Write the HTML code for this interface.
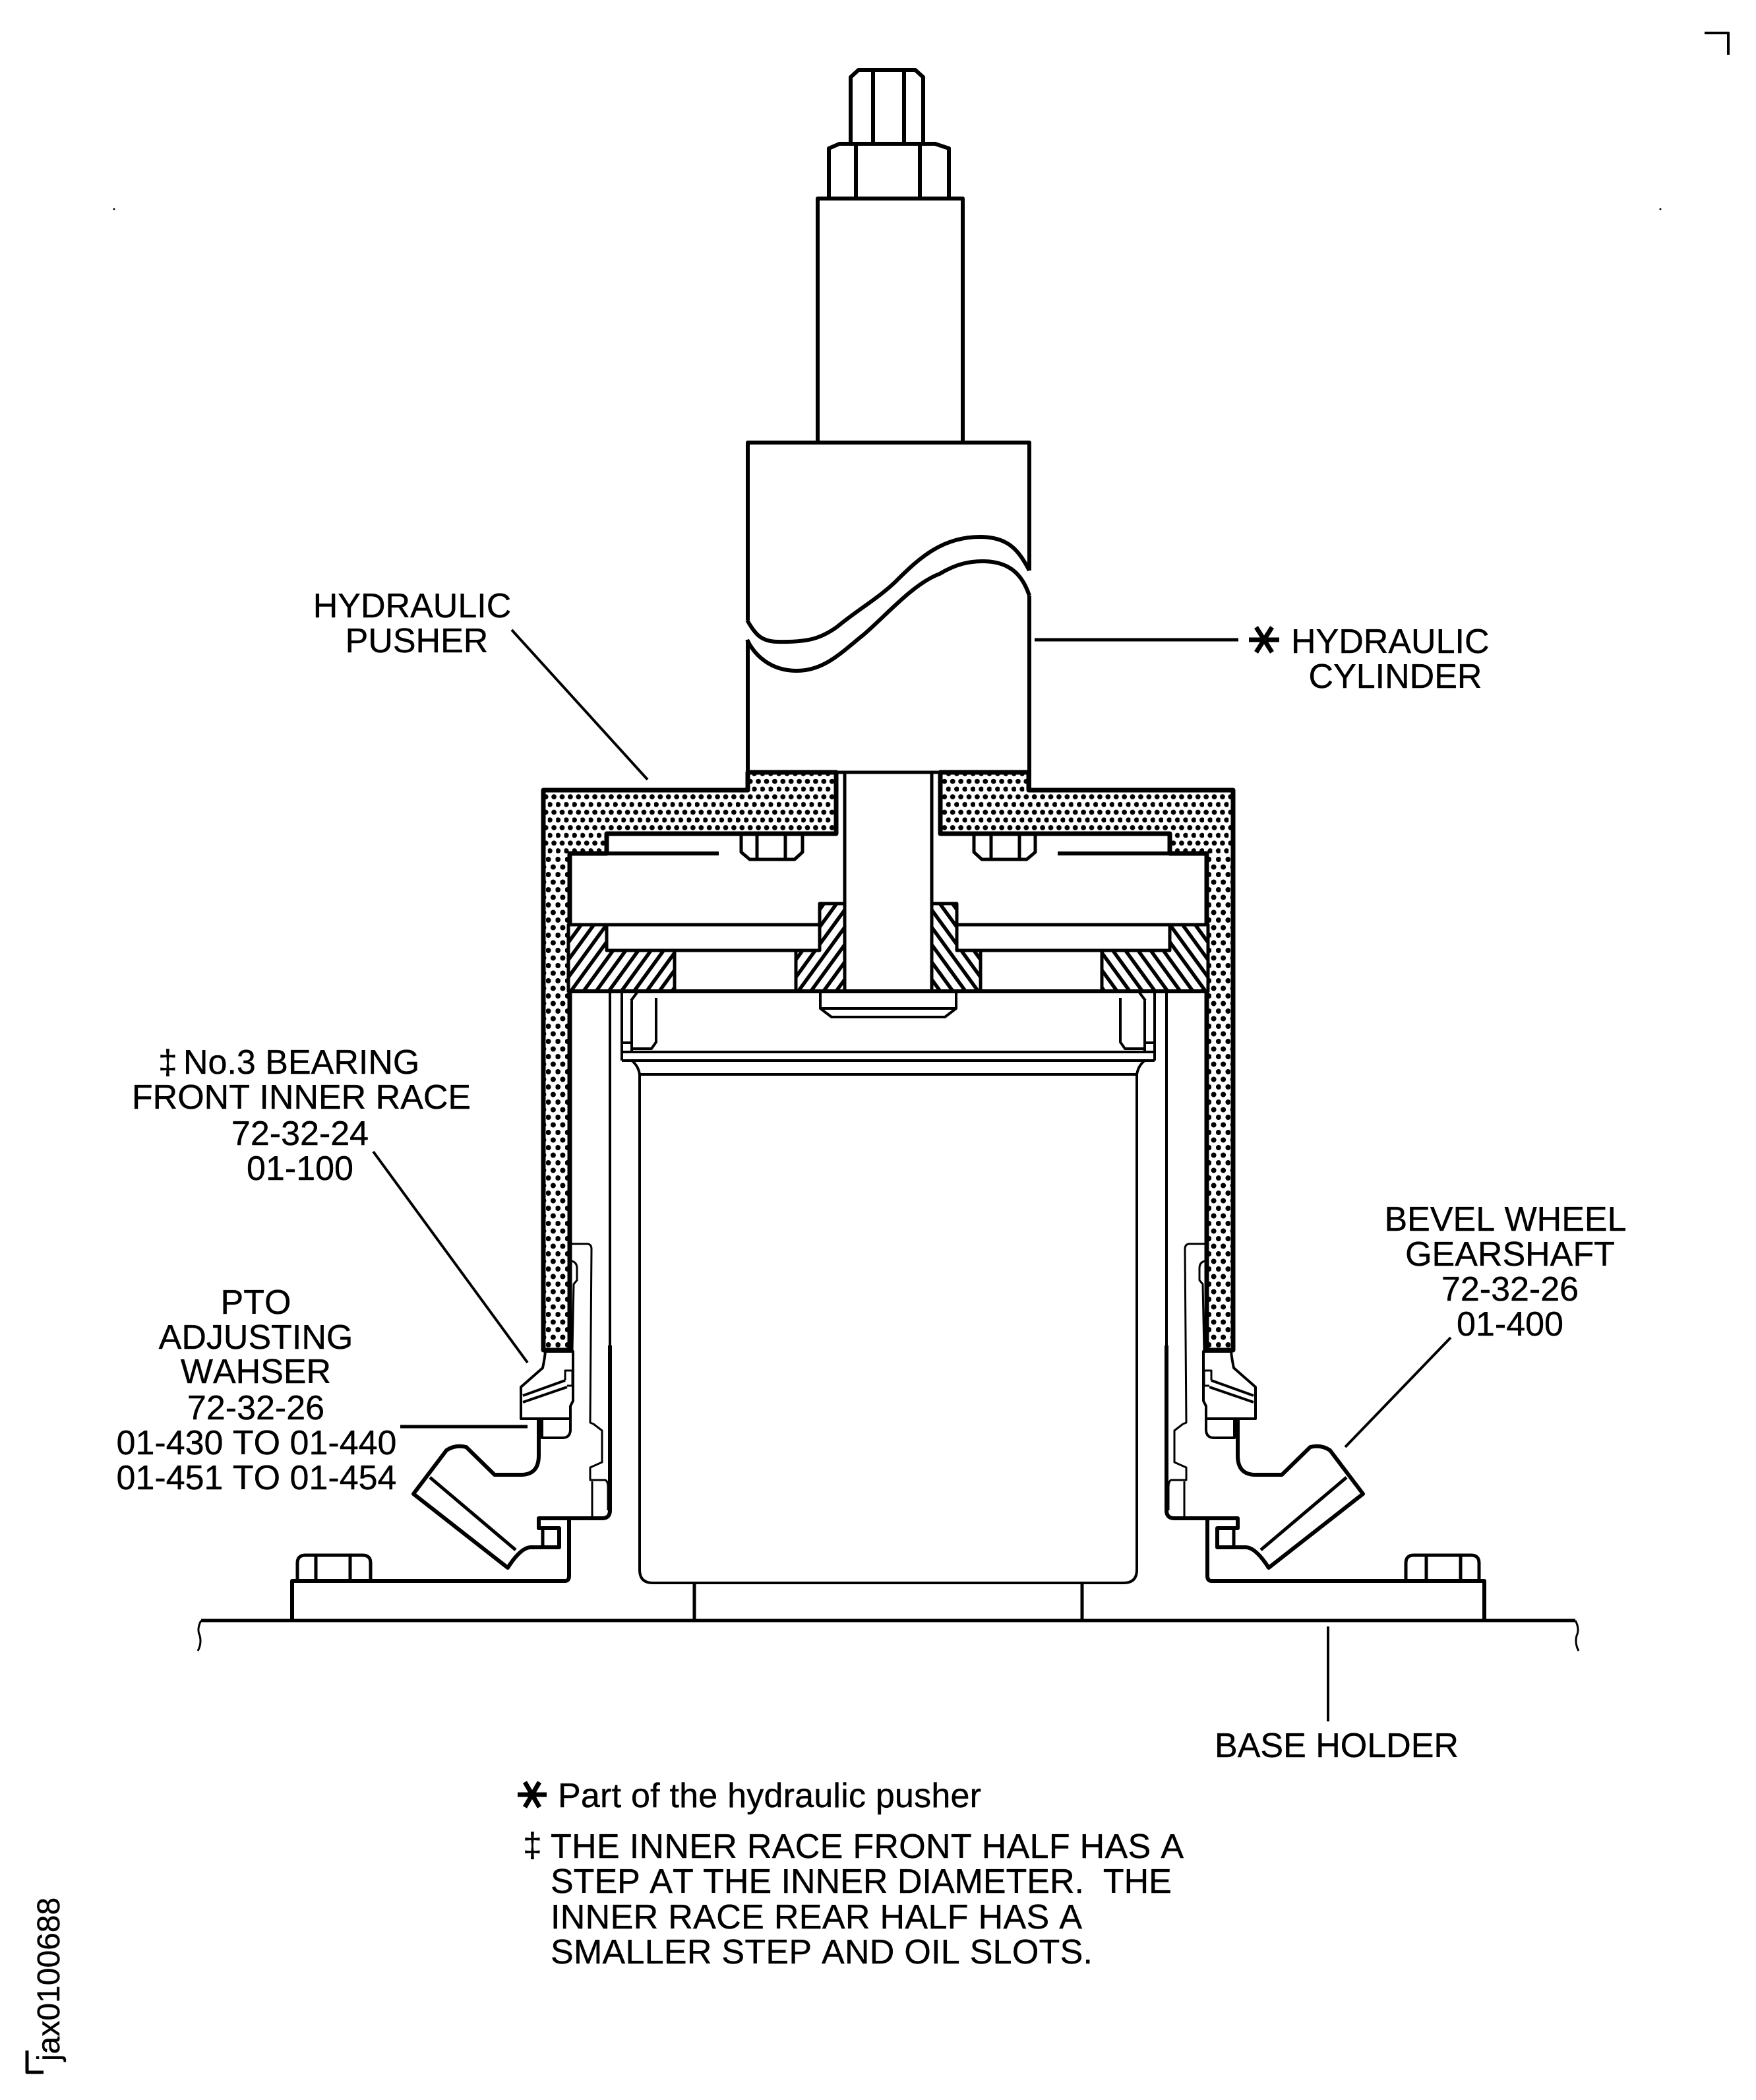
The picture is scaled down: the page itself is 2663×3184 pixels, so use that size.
<!DOCTYPE html>
<html>
<head>
<meta charset="utf-8">
<style>
html,body{margin:0;padding:0;background:#fff}
svg{display:block}
text{font-family:"Liberation Sans",sans-serif;font-size:52px;fill:#000;stroke:#000;stroke-width:.4;font-kerning:none}
</style>
</head>
<body>
<svg xmlns="http://www.w3.org/2000/svg" width="2663" height="3184" viewBox="0 0 2663 3184">
<defs>
<pattern id="st" patternUnits="userSpaceOnUse" width="12.4" height="23.4">
<rect width="12.4" height="23.4" fill="#fff"/>
<circle cx="3.1" cy="3" r="3.9" fill="#000"/>
<circle cx="9.3" cy="14.7" r="3.9" fill="#000"/>
<circle cx="-3.1" cy="14.7" r="3.9" fill="#000"/>
<circle cx="3.1" cy="26.4" r="3.9" fill="#000"/>
</pattern>
<pattern id="st2" patternUnits="userSpaceOnUse" width="14.5" height="23" x="828" y="1300">
<rect width="14.5" height="23" fill="#fff"/>
<circle cx="3.6" cy="3" r="4" fill="#000"/>
<circle cx="10.9" cy="14.5" r="4" fill="#000"/>
<circle cx="-3.6" cy="14.5" r="4" fill="#000"/>
<circle cx="3.6" cy="26" r="4" fill="#000"/>
</pattern>
<pattern id="ha" patternUnits="userSpaceOnUse" width="15.5" height="15.5" patternTransform="rotate(-54)">
<rect width="15.5" height="15.5" fill="#fff"/>
<rect width="15.5" height="5.5" fill="#000"/>
</pattern>
<g id="half" fill="none" stroke="#000" stroke-width="5" stroke-linejoin="round">
<!-- pusher -->
<path d="M1134 1171V1198H824V2047H864V1294H920V1264H1268V1171Z" fill="url(#st)" stroke-width="7"/>
<rect x="827.5" y="1298" width="33" height="745" fill="url(#st2)" stroke="none"/>
<path d="M864 1294H1090" stroke-width="6"/>
<!-- rod side -->
<path d="M1281 1171V1503" stroke-width="5"/>
<!-- hatches -->
<path d="M862 1402H920V1441H1023V1503H862Z" fill="url(#ha)"/>
<path d="M1243 1370H1281V1503H1207V1441H1243Z" fill="url(#ha)"/>
<path d="M862 1402H1243M920 1441H1207M862 1503H1347"/>
<path d="M862 1503H1347" stroke-width="6"/>
<!-- bolt -->
<path d="M1124 1265V1292L1137 1303H1205L1217 1292V1265M1148 1265V1303M1191 1265V1303" stroke-width="5"/>
<!-- rod head -->
<path d="M1244 1503V1529L1261 1542H1347M1244 1529H1347" stroke-width="4"/>
<!-- small bolt -->
<path d="M943 1503V1608M958 1517V1595M957 1517L966 1505M995 1513V1580L988 1590H958M943 1581H958" stroke-width="4"/>
<path d="M943 1595H1347M943 1608H1347" stroke-width="4"/>
<path d="M958 1608Q968 1616 970 1629V2380Q970 2400 990 2400H1347" stroke-width="4"/>
<path d="M970 1629H1347" stroke-width="4"/>
<path d="M1053 2400V2457" stroke-width="5"/>
<!-- long inner line and hook -->
<path d="M925 1503V2290" stroke-width="4"/>
<path d="M925 2040V2290Q925 2302 913 2302H817V2317H848V2346H805Q790 2346 770 2377L627 2265L677 2199Q690 2190 707 2194L750 2236H790Q817 2236 817 2207V2151" stroke-width="6"/>
<path d="M823 2317V2346"/>
<path d="M652 2240L782 2350" stroke-width="5"/>
<!-- base -->
<path d="M443 2457V2397H857Q863 2397 863 2389V2304" stroke-width="6"/>
<path d="M305 2457H1347" stroke-width="5"/>
<path d="M305 2457Q298 2470 303 2480Q306 2492 300 2503" stroke-width="3"/>
<path d="M451 2397V2370Q451 2358 463 2358H550Q562 2358 562 2370V2397M479 2358V2397M531 2358V2397" stroke-width="5"/>
<!-- bearing race -->
<path d="M827 2049Q826 2060 823 2074L790 2103V2151H865M827 2049H869V2124L865 2132V2169Q864 2180 853 2180H822V2151" stroke-width="4"/>
<path d="M793 2116L857 2093M793 2126L860 2103" stroke-width="4"/>
<path d="M857 2093V2078H868V2101H860" stroke-width="3"/>
<!-- thin inner outline -->
<path d="M865 1886H890Q897 1886 897 1894L895 2157L900 2159L913 2169V2217L895 2225V2244H918Q922 2246 922 2255V2290" stroke-width="3"/>
<path d="M898 2246V2302" stroke-width="3"/>
<path d="M867 1912Q875 1914 875 1923V1941L870 1947L868 2049" stroke-width="3"/>
</g>
</defs>
<rect width="2663" height="3184" fill="#fff"/>

<use href="#half"/>
<use href="#half" transform="matrix(-1 0 0 1 2694 0)"/>

<g fill="none" stroke="#000" stroke-width="5" stroke-linejoin="round">
<!-- stud -->
<path d="M1290 218V117L1302 106H1388L1400 117V218M1324 106V218M1371 106V218" stroke-width="6"/>
<path d="M1257 301V225L1273 218H1418L1439 225V301M1298 218V301M1395 218V301" stroke-width="6"/>
<path d="M1240 671V301H1460V671" stroke-width="6"/>
<!-- cylinder -->
<path d="M1134 940V671H1561V865" stroke-width="6"/>
<path d="M1134 970V1198M1561 903V1198" stroke-width="6"/>
<path d="M1134 1171H1561" stroke-width="5"/>
<path d="M1133 940C1145 962 1155 973 1180 973C1225 974 1245 968 1270 950C1300 925 1335 905 1360 880C1395 845 1430 814 1486 814C1530 814 1545 835 1561 865" stroke-width="6"/>
<path d="M1133 970C1145 995 1170 1017 1208 1017C1250 1017 1275 990 1310 962C1345 932 1385 885 1425 870C1450 855 1470 851 1490 851C1530 851 1550 870 1561 903" stroke-width="6"/>
<!-- leaders -->
<path d="M1569 970H1878" stroke-width="5"/>
<path d="M776 955L982 1182" stroke-width="4"/>
<path d="M566 1746L800 2066" stroke-width="4"/>
<path d="M607 2163H800" stroke-width="5"/>
<path d="M2200 2028L2040 2194" stroke-width="4"/>
<path d="M2014 2466V2610" stroke-width="4"/>
<!-- asterisks -->
<path d="M1894 970H1940M1905 951L1929 989M1929 951L1905 989" stroke-width="7"/>
<path d="M785 2721H829M796 2702L818 2740M818 2702L796 2740" stroke-width="7"/>
<!-- corners -->
<path d="M2585 50H2621V83" stroke-width="4"/>
<path d="M41 3109V3142H66" stroke-width="5"/>
</g>
<circle cx="173" cy="317" r="1.5"/><circle cx="2518" cy="317" r="1.5"/>

<!-- labels -->
<text x="625" y="936" text-anchor="middle">HYDRAULIC</text>
<text x="632" y="989" text-anchor="middle">PUSHER</text>
<text x="1958" y="990">HYDRAULIC</text>
<text x="2116" y="1043" text-anchor="middle">CYLINDER</text>

<text x="240" y="1628">‡</text>
<text x="278" y="1628">No.3 BEARING</text>
<text x="457" y="1681" text-anchor="middle">FRONT INNER RACE</text>
<text x="455" y="1736" text-anchor="middle">72-32-24</text>
<text x="455" y="1789" text-anchor="middle">01-100</text>

<text x="388" y="1992" text-anchor="middle">PTO</text>
<text x="388" y="2045" text-anchor="middle">ADJUSTING</text>
<text x="388" y="2097" text-anchor="middle">WAHSER</text>
<text x="388" y="2152" text-anchor="middle">72-32-26</text>
<text x="389" y="2205" text-anchor="middle">01-430 TO 01-440</text>
<text x="389" y="2258" text-anchor="middle">01-451 TO 01-454</text>

<text x="2283" y="1866" text-anchor="middle">BEVEL WHEEL</text>
<text x="2290" y="1919" text-anchor="middle">GEARSHAFT</text>
<text x="2290" y="1972" text-anchor="middle">72-32-26</text>
<text x="2290" y="2025" text-anchor="middle">01-400</text>

<text x="2027" y="2664" text-anchor="middle">BASE HOLDER</text>

<text x="846" y="2740" textLength="642">Part of the hydraulic pusher</text>
<text x="793" y="2815">‡</text>
<text x="835" y="2817" textLength="960">THE INNER RACE FRONT HALF HAS A</text>
<text x="835" y="2870" xml:space="preserve">STEP AT THE INNER DIAMETER.  THE</text>
<text x="835" y="2924" textLength="806">INNER RACE REAR HALF HAS A</text>
<text x="835" y="2977" textLength="822">SMALLER STEP AND OIL SLOTS.</text>

<text transform="translate(90 3125) rotate(-90)" style="font-size:48px">jax0100688</text>
</svg>
</body>
</html>
